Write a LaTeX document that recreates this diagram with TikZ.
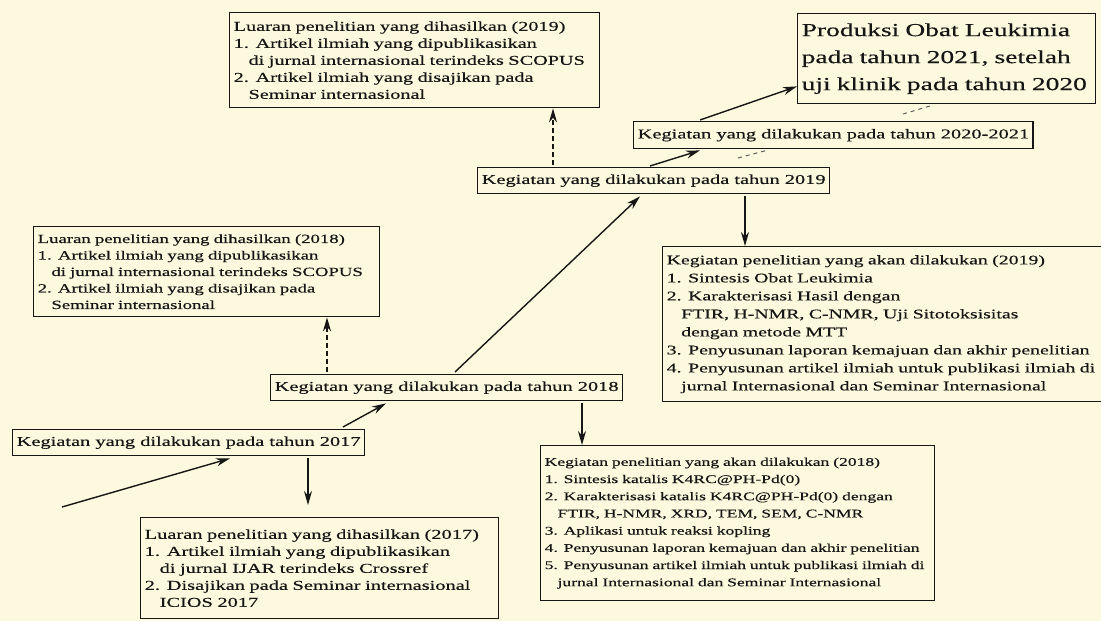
\documentclass[tikz,border=0pt]{standalone}
\usepackage{fontspec}
\setmainfont[FakeStretch=1.5,FakeBold=0.4]{Liberation Serif}
\usetikzlibrary{arrows.meta,calc}
\definecolor{bg}{HTML}{FDF9DE}
\definecolor{ink}{HTML}{161616}
\begin{document}
\begin{tikzpicture}[x=1pt,y=-1pt,
  box/.style={draw=ink, line width=1.4pt, anchor=north west, align=left,
    inner xsep=4pt, inner ysep=3pt, font=\fontsize{13.6}{17}\selectfont, text=ink},
  arr/.style={draw=ink, line width=1.4pt, -{Stealth[length=14pt,width=8pt]}},
  darr/.style={arr, dash pattern=on 5pt off 3pt},
  faint/.style={draw=ink!70, line width=1pt, dash pattern=on 4pt off 4pt},
]
\useasboundingbox (0,0) rectangle (1101,621);
\fill[bg] (0,0) rectangle (1101,621);
\clip (0,0) rectangle (1101,621);

\node[box, text width=362pt, minimum height=95pt, font=\fontsize{13.5}{17}\selectfont] (l19) at (229,12)
 {Luaran penelitian yang dihasilkan (2019)\\
  1. Artikel ilmiah yang dipublikasikan\\
  \hspace*{1.1em}di jurnal internasional terindeks SCOPUS\\
  2. Artikel ilmiah yang disajikan pada\\
  \hspace*{1.1em}Seminar internasional};

\node[box, text width=290pt, minimum height=90pt, font=\fontsize{18.3}{27}\selectfont] (p) at (797,13)
 {Produksi Obat Leukimia\\
  pada tahun 2021, setelah\\
  uji klinik pada tahun 2020};

\node[box, minimum height=27pt] (k2021) at (633,121) {Kegiatan yang dilakukan pada tahun 2020-2021};
\node[box, minimum height=26pt] (k19) at (477,167) {Kegiatan yang dilakukan pada tahun 2019};

\node[box, text width=445pt, minimum height=155pt, font=\fontsize{13.2}{18}\selectfont] (kp19) at (662,246)
 {Kegiatan penelitian yang akan dilakukan (2019)\\
  1. Sintesis Obat Leukimia\\
  2. Karakterisasi Hasil dengan\\
  \hspace*{1.1em}FTIR, H-NMR, C-NMR, Uji Sitotoksisitas\\
  \hspace*{1.1em}dengan metode MTT\\
  3. Penyusunan laporan kemajuan dan akhir penelitian\\
  4. Penyusunan artikel ilmiah untuk publikasi ilmiah di\\
  \hspace*{1.1em}jurnal Internasional dan Seminar Internasional};

\node[box, text width=338pt, minimum height=90pt, font=\fontsize{12.5}{16.5}\selectfont] (l18) at (33,226)
 {Luaran penelitian yang dihasilkan (2018)\\
  1. Artikel ilmiah yang dipublikasikan\\
  \hspace*{1.1em}di jurnal internasional terindeks SCOPUS\\
  2. Artikel ilmiah yang disajikan pada\\
  \hspace*{1.1em}Seminar internasional};

\node[box, minimum height=26pt] (k18) at (270,374) {Kegiatan yang dilakukan pada tahun 2018};
\node[box, minimum height=26pt] (k17) at (12,429) {Kegiatan yang dilakukan pada tahun 2017};

\node[box, text width=386pt, minimum height=155pt, font=\fontsize{11.7}{17.2}\selectfont] (kp18) at (540,445)
 {Kegiatan penelitian yang akan dilakukan (2018)\\
  1. Sintesis katalis K4RC@PH-Pd(0)\\
  2. Karakterisasi katalis K4RC@PH-Pd(0) dengan\\
  \hspace*{1.1em}FTIR, H-NMR, XRD, TEM, SEM, C-NMR\\
  3. Aplikasi untuk reaksi kopling\\
  4. Penyusunan laporan kemajuan dan akhir penelitian\\
  5. Penyusunan artikel ilmiah untuk publikasi ilmiah di\\
  \hspace*{1.1em}jurnal Internasional dan Seminar Internasional};

\node[box, text width=350pt, minimum height=101pt, font=\fontsize{13.6}{17}\selectfont] (l17) at (140,517)
 {Luaran penelitian yang dihasilkan (2017)\\
  1. Artikel ilmiah yang dipublikasikan\\
  \hspace*{1.1em}di jurnal IJAR terindeks Crossref\\
  2. Disajikan pada Seminar internasional\\
  \hspace*{1.1em}ICIOS 2017};

% connectors
\coordinate (s17) at (62,507);
\draw[arr] (s17) -- ($(k17.south west)+(218,2)$);
\draw[arr] ($(k17.south west)+(296,2)$) -- ($(l17.north west)+(168,-12)$);
\draw[arr] ($(k17.north west)+(331,-2)$) -- ($(k18.south west)+(116,2)$);
\draw[darr] ($(k18.north west)+(57,-2)$) -- ($(l18.south west)+(294,0)$);
\draw[arr] ($(k18.north west)+(185,-2)$) -- ($(k19.south west)+(163,2)$);
\draw[arr] ($(k18.south west)+(312,2)$) -- ($(kp18.north west)+(42,0)$);
\draw[darr] ($(k19.north west)+(76,-2)$) -- ($(l19.south west)+(324,0)$);
\draw[arr] ($(k19.north west)+(173,-1)$) -- ($(k2021.south west)+(67,1)$);
\draw[arr] ($(k2021.north west)+(67,-1)$) -- ($(p.south west)+(0,-18)$);
\draw[arr] ($(k19.south west)+(268,2)$) -- ($(kp19.north west)+(83,0)$);
\coordinate (f1a) at (738,158); \coordinate (f1b) at (768,150);
\draw[faint] (f1a) -- (f1b);
\coordinate (f2a) at (903,114); \coordinate (f2b) at (930,106);
\draw[faint] (f2a) -- (f2b);
\end{tikzpicture}
\end{document}
